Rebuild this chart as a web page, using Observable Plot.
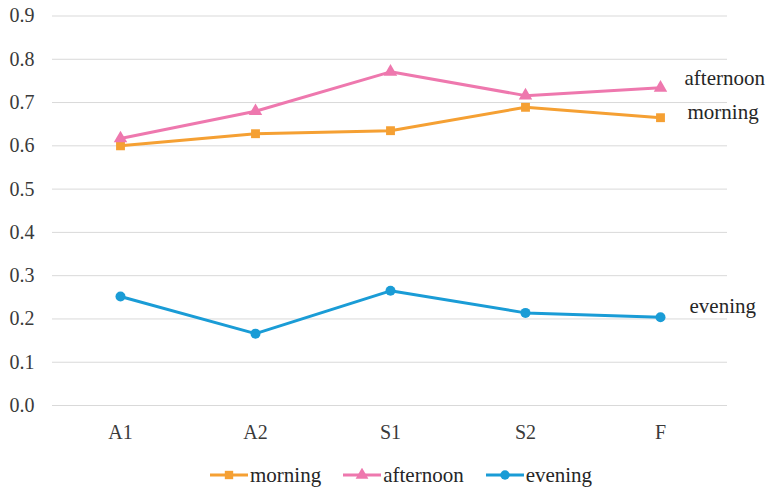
<!DOCTYPE html>
<html>
<head>
<meta charset="utf-8">
<script src="https://cdn.jsdelivr.net/npm/d3@7"></script>
<script src="https://cdn.jsdelivr.net/npm/@observablehq/plot@0.6"></script>
<style>
  html, body { margin: 0; padding: 0; background: #fff; }
  #chart { width: 772px; }
  #chart svg text { font-family: "Liberation Serif", "Times New Roman", serif !important; }
  .legend { display: flex; align-items: center; height: 48px; padding-top: 3px; padding-left: 210px;
            font-family: "Liberation Serif", "Times New Roman", serif; font-size: 21px; color: #262626; }
  .legend .item { display: flex; align-items: center; margin-right: 22px; }
  .legend svg { margin-right: 2px; }
</style>
</head>
<body>
<div id="chart"></div>
<script>
// Sessions along the x axis
const categories = ["A1", "A2", "S1", "S2", "F"];
// Series values, one per session
const morning   = [0.600, 0.628, 0.635, 0.689, 0.665];
const afternoon = [0.617, 0.680, 0.771, 0.716, 0.734];
const evening   = [0.252, 0.166, 0.265, 0.214, 0.204];
const seriesNames = ["morning", "afternoon", "evening"];
const seriesColors = ["#F5A033", "#EE78AE", "#1A9CD6"];
const seriesSymbols = ["square", "triangle", "circle"];
const yTicks = [0, 0.1, 0.2, 0.3, 0.4, 0.5, 0.6, 0.7, 0.8, 0.9];

const seriesValues = {morning, afternoon, evening};
const rows = seriesNames.flatMap(name =>
  categories.map((c, i) => ({series: name, session: c, value: seriesValues[name][i]}))
);
const last = name => rows.filter(d => d.series === name && d.session === categories[categories.length - 1]);

const font = "'Liberation Serif', 'Times New Roman', serif";

const plot = Plot.plot({
  width: 772,
  height: 448,
  marginLeft: 52,
  marginRight: 45,
  marginTop: 15.5,
  marginBottom: 43,
  style: {fontFamily: font, fontSize: "20px", color: "#3a3a3a", background: "#fff", overflow: "visible"},
  x: {type: "point", domain: categories, padding: 0.5, tickSize: 0, tickPadding: 19, label: null},
  y: {domain: [0, 0.9], ticks: yTicks, tickFormat: d => d.toFixed(1), tickSize: 0, tickPadding: 18, label: null},
  color: {domain: seriesNames, range: seriesColors},
  symbol: {domain: seriesNames, range: seriesSymbols},
  marks: [
    Plot.ruleY(yTicks, {stroke: "#d9d9d9", strokeWidth: 1}),
    Plot.line(rows, {x: "session", y: "value", z: "series", stroke: "series", strokeWidth: 3}),
    Plot.dot(rows, {x: "session", y: "value", fill: "series", symbol: "series", r: 5, stroke: null}),
    Plot.text(last("afternoon"), {x: "session", y: "value", text: "series", textAnchor: "start", dx: 24, dy: -10, fill: "#262626", fontSize: 21, fontFamily: font}),
    Plot.text(last("morning"), {x: "session", y: "value", text: "series", textAnchor: "start", dx: 27, dy: -5, fill: "#262626", fontSize: 21, fontFamily: font}),
    Plot.text(last("evening"), {x: "session", y: "value", text: "series", textAnchor: "start", dx: 29, dy: -11, fill: "#262626", fontSize: 21, fontFamily: font})
  ]
});
document.getElementById("chart").appendChild(plot);

// Legend: line swatch with the series marker, then its name
const legend = document.createElement("div");
legend.className = "legend";
const ns = "http://www.w3.org/2000/svg";
seriesNames.forEach((name, i) => {
  const item = document.createElement("div");
  item.className = "item";
  const sw = document.createElementNS(ns, "svg");
  sw.setAttribute("width", 38);
  sw.setAttribute("height", 14);
  const ln = document.createElementNS(ns, "line");
  ln.setAttribute("x1", 0); ln.setAttribute("x2", 38);
  ln.setAttribute("y1", 7); ln.setAttribute("y2", 7);
  ln.setAttribute("stroke", seriesColors[i]); ln.setAttribute("stroke-width", 3);
  sw.appendChild(ln);
  const mk = document.createElementNS(ns, "path");
  mk.setAttribute("d", d3.symbol(
    seriesSymbols[i] === "square" ? d3.symbolSquare : seriesSymbols[i] === "triangle" ? d3.symbolTriangle : d3.symbolCircle, 70)());
  mk.setAttribute("transform", "translate(19,7)");
  mk.setAttribute("fill", seriesColors[i]);
  sw.appendChild(mk);
  item.appendChild(sw);
  const label = document.createElement("span");
  label.textContent = name;
  item.appendChild(label);
  legend.appendChild(item);
});
document.getElementById("chart").appendChild(legend);
</script>
</body>
</html>
